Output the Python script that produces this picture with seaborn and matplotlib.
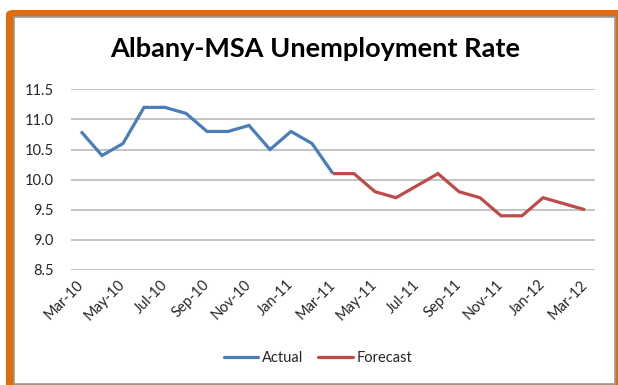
import matplotlib
matplotlib.use("Agg")
import matplotlib.pyplot as plt
from matplotlib.patches import FancyBboxPatch, Rectangle
import pandas as pd
import seaborn as sns

# Monthly series, Mar-10 through Mar-12
months = ["Mar-10", "Apr-10", "May-10", "Jun-10", "Jul-10", "Aug-10", "Sep-10",
          "Oct-10", "Nov-10", "Dec-10", "Jan-11", "Feb-11", "Mar-11", "Apr-11",
          "May-11", "Jun-11", "Jul-11", "Aug-11", "Sep-11", "Oct-11", "Nov-11",
          "Dec-11", "Jan-12", "Feb-12", "Mar-12"]
actual = [10.8, 10.4, 10.6, 11.2, 11.2, 11.1, 10.8, 10.8, 10.9, 10.5, 10.8, 10.6, 10.1]
forecast = [10.1, 10.1, 9.8, 9.7, 9.9, 10.1, 9.8, 9.7, 9.4, 9.4, 9.7, 9.6, 9.5]
forecast_start = "Mar-11"
y_ticks = [8.5, 9.0, 9.5, 10.0, 10.5, 11.0, 11.5]
title = "Albany-MSA Unemployment Rate"

start = months.index(forecast_start)
df = pd.concat([
    pd.DataFrame({"pos": range(len(actual)), "month": months[:len(actual)],
                  "rate": actual, "series": "Actual"}),
    pd.DataFrame({"pos": range(start, start + len(forecast)),
                  "month": months[start:start + len(forecast)],
                  "rate": forecast, "series": "Forecast"}),
], ignore_index=True)

sns.set_theme(style="white")
plt.rcParams["font.family"] = ["Lato", "DejaVu Sans"]

W, H = 618, 385
fig = plt.figure(figsize=(W / 100, H / 100), dpi=100)
fig.patch.set_facecolor("white")

def fx(px):
    return px / W

def fy(py):
    return 1 - py / H

# Orange outer frame with a white panel inside
frame = FancyBboxPatch((fx(6), fy(395)), fx(630 - 6), (395 - 10) / H,
                       boxstyle="round,pad=0,rounding_size=0.012",
                       transform=fig.transFigure, facecolor="#E36C0A",
                       edgecolor="none", zorder=-3)
fig.patches.append(frame)
panel = Rectangle((fx(14), fy(384)), fx(615 - 14), (384 - 17) / H,
                  transform=fig.transFigure, facecolor="white",
                  edgecolor="#9A9A9A", linewidth=1.2, zorder=-2)
fig.patches.append(panel)

ax = fig.add_axes([fx(70.5), fy(270), fx(595.5 - 70.5), (270 - 89.3) / H])
ax.set_facecolor("none")
ax.set_zorder(1)

palette = {"Actual": "#4A7EBB", "Forecast": "#BE4B48"}
sns.lineplot(data=df, x="pos", y="rate", hue="series", palette=palette,
             linewidth=2.3, sort=False, ax=ax)
for line in ax.get_lines():
    line.set_solid_joinstyle("miter")
    line.set_solid_capstyle("butt")

ax.set_xlim(-0.5, len(months) - 0.5)
ax.set_ylim(y_ticks[0], y_ticks[-1])
ax.set_yticks(y_ticks)
ax.set_yticklabels([f"{v:.1f}" for v in y_ticks])
tick_pos = list(range(0, len(months), 2))
ax.set_xticks(tick_pos)
ax.set_xticklabels([months[i] for i in tick_pos], rotation=45, ha="right",
                   va="center", rotation_mode="anchor")
ax.tick_params(axis="x", length=0, pad=9, labelsize=10.5, labelcolor="#262626")
ax.tick_params(axis="y", length=0, pad=12, labelsize=10.5, labelcolor="#262626")
ax.set_xlabel("")
ax.set_ylabel("")
ax.grid(axis="y", color="#BFBFBF", linewidth=1.3)
ax.grid(axis="x", visible=False)
ax.set_axisbelow(True)
for s in ax.spines.values():
    s.set_visible(False)

sns.move_legend(ax, "center", bbox_to_anchor=(fx(318), fy(358)),
                bbox_transform=fig.transFigure, ncol=2, frameon=False,
                title=None, fontsize=10.5, handlelength=2.35,
                handletextpad=0.25, columnspacing=1.05)
for t in ax.get_legend().get_texts():
    t.set_color("#262626")

fig.text(fx(315), fy(57), title, ha="center", va="baseline",
         fontsize=19.5, fontweight="bold", color="black")

fig.savefig("out.png", dpi=100)
